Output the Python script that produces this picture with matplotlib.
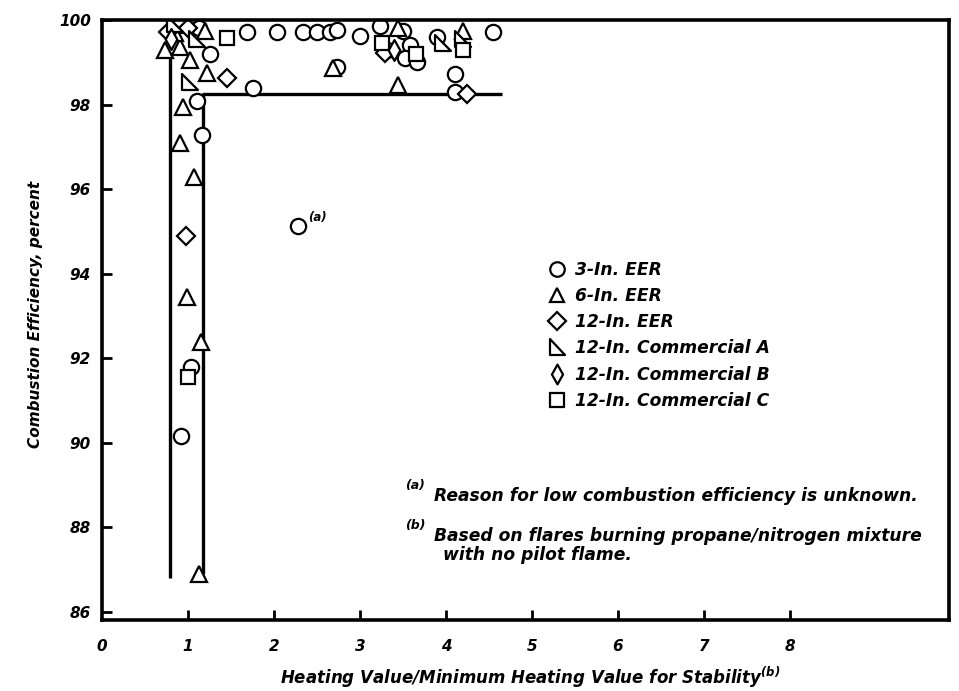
import numpy as np
import matplotlib
matplotlib.use("Agg")
import matplotlib.pyplot as plt
from matplotlib.path import Path
from matplotlib.lines import Line2D

plt.rcParams['font.family'] = 'DejaVu Sans'
plt.rcParams['font.weight'] = 'bold'
plt.rcParams['font.style'] = 'oblique'
plt.rcParams['axes.labelweight'] = 'bold'
plt.rcParams['mathtext.fontset'] = 'custom'
plt.rcParams['mathtext.rm'] = 'DejaVu Sans:bold:oblique'
plt.rcParams['mathtext.it'] = 'DejaVu Sans:bold:oblique'

# heating value ratio / combustion efficiency, one pair of lists per flare
eer3_x = [1.10, 1.16, 1.03, 0.92, 2.28, 0.91, 1.26, 1.69, 2.03, 2.34, 2.50, 2.65, 2.73, 3.00,
          3.23, 3.31, 3.58, 3.52, 3.66, 3.90, 4.55, 4.10, 4.10, 1.76, 2.73, 3.50, 1.13]
eer3_y = [98.08, 97.28, 91.78, 90.15, 95.12, 99.88, 99.20, 99.72, 99.72, 99.72, 99.72, 99.72,
          99.76, 99.62, 99.85, 99.30, 99.42, 99.10, 99.00, 99.60, 99.72, 98.72, 98.30, 98.39,
          98.88, 99.75, 99.80]
eer6_x = [0.94, 0.91, 1.07, 0.99, 1.15, 1.13, 0.73, 0.91, 1.02, 1.22, 2.69, 3.44, 3.44, 4.20,
          0.85, 1.20]
eer6_y = [97.94, 97.09, 96.28, 93.44, 92.38, 86.88, 99.29, 99.36, 99.05, 98.75, 98.86, 98.46,
          99.80, 99.75, 99.70, 99.75]
eer12_x = [0.98, 0.77, 1.45, 3.29, 4.24, 1.00]
eer12_y = [94.88, 99.72, 98.62, 99.22, 98.25, 99.80]
comA_x = [1.02, 3.97, 4.20, 1.10, 0.85]
comA_y = [98.53, 99.45, 99.55, 99.55, 99.90]
comB_x = [0.80, 3.40]
comB_y = [99.55, 99.30]
comC_x = [1.00, 1.45, 4.20, 3.25, 3.65]
comC_y = [91.55, 99.57, 99.29, 99.45, 99.20]

# stability boundary lines
left_x = [0.79, 0.79]
left_y = [86.8, 99.12]
right_x = [1.17, 1.17, 4.65]
right_y = [86.9, 98.25, 98.25]

legend_labels = ['3-In. EER', '6-In. EER', '12-In. EER', '12-In. Commercial A',
                 '12-In. Commercial B', '12-In. Commercial C']

tri_a = Path([(-0.45, 0.5), (-0.45, -0.5), (0.5, -0.5), (-0.45, 0.5)],
             [Path.MOVETO, Path.LINETO, Path.LINETO, Path.CLOSEPOLY])
dia_b = Path([(0, 0.5), (0.28, 0), (0, -0.5), (-0.28, 0), (0, 0.5)],
             [Path.MOVETO, Path.LINETO, Path.LINETO, Path.LINETO, Path.CLOSEPOLY])

styles = [('o', 11), ('^', 11), ('D', 9.5), (tri_a, 12), (dia_b, 15), ('s', 10.5)]
series = [(eer3_x, eer3_y), (eer6_x, eer6_y), (eer12_x, eer12_y),
          (comA_x, comA_y), (comB_x, comB_y), (comC_x, comC_y)]

fig = plt.figure(figsize=(9.59, 6.91), dpi=100)
ax = fig.add_axes([0.1064, 0.1027, 0.8832, 0.8683])

ax.plot(left_x, left_y, color='black', lw=2.4, solid_capstyle='butt')
ax.plot(right_x, right_y, color='black', lw=2.4, solid_capstyle='butt')

for (xs, ys), (m, ms) in zip(series, styles):
    ax.plot(xs, ys, ls='none', marker=m, ms=ms, mfc='white', mec='black', mew=1.6)

ax.annotate('(a)', xy=(eer3_x[4], eer3_y[4]), xytext=(7, 4), textcoords='offset points',
            fontsize=8.5)

ax.set_xlim(0, 9.85)
ax.set_ylim(85.8, 100)
ax.set_xticks(range(0, 9))
ax.set_yticks(range(86, 101, 2))
ax.tick_params(direction='in', length=7, width=2, labelsize=11, color='black')
ax.tick_params(axis='x', pad=14)
ax.tick_params(axis='y', pad=8)
ax.xaxis.get_major_ticks()[0].tick1line.set_visible(False)
for s in ax.spines.values():
    s.set_linewidth(2.6)

ax.set_ylabel('Combustion Efficiency, percent', fontsize=11)
ax.yaxis.set_label_coords(-0.07, 0.51)
ax.set_xlabel('Heating Value/Minimum Heating Value for Stability$^{(b)}$', fontsize=12)
ax.xaxis.set_label_coords(0.505, -0.075)

handles = [Line2D([], [], ls='none', marker=m, ms=ms * 0.95, mfc='white', mec='black', mew=1.6)
           for m, ms in styles]
ax.legend(handles, legend_labels, loc='upper left', bbox_to_anchor=(0.52, 0.61),
          frameon=False, fontsize=12.3, handlelength=0.9, handletextpad=0.6,
          labelspacing=0.48, borderaxespad=0)

ax.text(0.358, 0.225, '(a)', transform=ax.transAxes, fontsize=9, va='center')
ax.text(0.392, 0.207, 'Reason for low combustion efficiency is unknown.',
        transform=ax.transAxes, fontsize=12.3, va='center')
ax.text(0.358, 0.158, '(b)', transform=ax.transAxes, fontsize=9, va='center')
ax.text(0.392, 0.140, 'Based on flares burning propane/nitrogen mixture',
        transform=ax.transAxes, fontsize=12.3, va='center')
ax.text(0.403, 0.108, 'with no pilot flame.', transform=ax.transAxes, fontsize=12.3,
        va='center')

fig.savefig('out.png', dpi=100)
